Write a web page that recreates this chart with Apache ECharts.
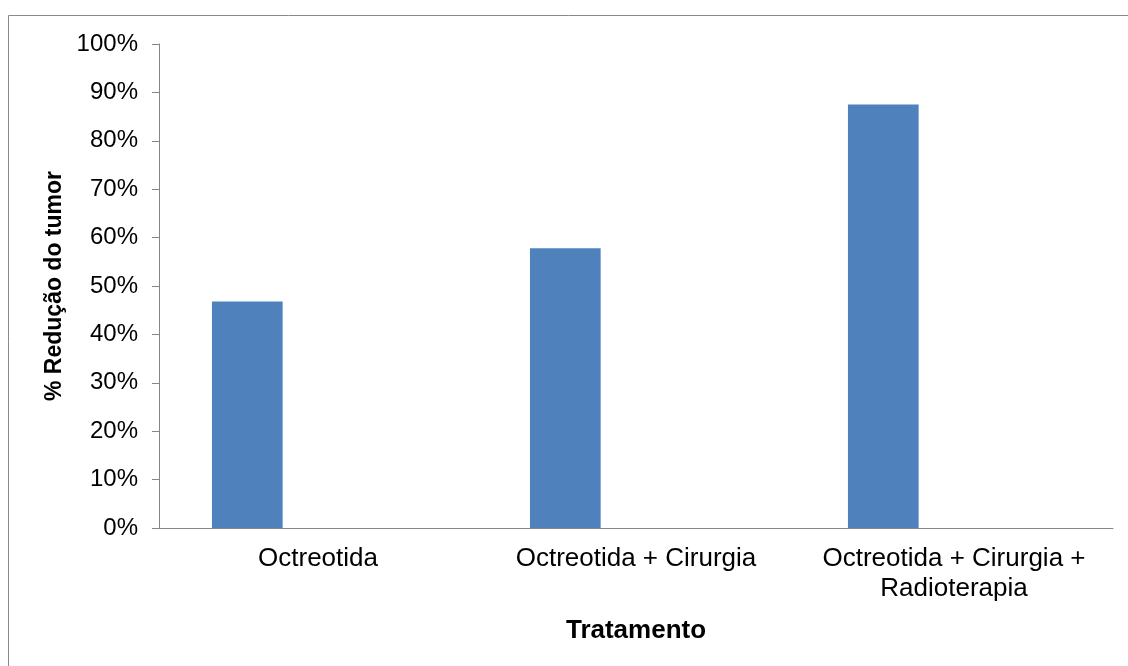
<!DOCTYPE html>
<html>
<head>
<meta charset="utf-8">
<title>% Redução do tumor por tratamento</title>
<script src="https://cdn.jsdelivr.net/npm/echarts@6/dist/echarts.min.js"></script>
<style>
  html, body { margin: 0; padding: 0; background: #ffffff; }
  #chart { width: 1128px; height: 666px; }
</style>
</head>
<body>
<div id="chart"></div>
<script>
// Tratamentos (categorias do eixo X)
const categories = ['Octreotida', 'Octreotida + Cirurgia', 'Octreotida + Cirurgia +\nRadioterapia'];
// % de redução do tumor por tratamento
const reducao = [46.8, 57.8, 87.5];
// Séries vazias que ocupam as posições restantes de cada grupo
const serieVazia2 = [null, null, null];
const serieVazia3 = [null, null, null];
// Marcas do eixo Y (%)
const yMin = 0, yMax = 100, yStep = 10;

const FONT = 'Liberation Sans, Arial, sans-serif';
const AXIS_GRAY = '#868686';

const chart = echarts.init(document.getElementById('chart'), null, { renderer: 'canvas' });

chart.setOption({
  backgroundColor: '#ffffff',
  animation: false,
  graphic: [{
    type: 'rect',
    shape: { x: 8.5, y: 15.5, width: 1300, height: 1000 },
    style: { fill: 'none', stroke: '#898989', lineWidth: 1 },
    silent: true
  }],
  grid: { left: 159, right: 15, top: 44, bottom: 138, containLabel: false },
  xAxis: {
    type: 'category',
    data: categories,
    name: 'Tratamento',
    nameLocation: 'middle',
    nameGap: 90,
    nameTextStyle: { fontFamily: FONT, fontSize: 26, fontWeight: 'bold', color: '#000' },
    axisLine: { show: true, lineStyle: { color: AXIS_GRAY, width: 1 } },
    axisTick: { show: false },
    axisLabel: {
      interval: 0,
      margin: 16,
      fontFamily: FONT,
      fontSize: 26,
      lineHeight: 30,
      color: '#000'
    },
    splitLine: { show: false }
  },
  yAxis: {
    type: 'value',
    min: yMin,
    max: yMax,
    interval: yStep,
    name: '% Redução do tumor',
    nameLocation: 'middle',
    nameGap: 91,
    nameRotate: 90,
    nameTextStyle: { fontFamily: FONT, fontSize: 23, fontWeight: 'bold', color: '#000' },
    axisLine: { show: true, lineStyle: { color: AXIS_GRAY, width: 1 } },
    axisTick: { show: true, inside: false, length: 7, lineStyle: { color: AXIS_GRAY } },
    axisLabel: {
      margin: 21,
      fontFamily: FONT,
      fontSize: 24,
      color: '#000',
      formatter: '{value}%'
    },
    splitLine: { show: false }
  },
  series: [
    {
      type: 'bar',
      data: reducao,
      barGap: '0%',
      barCategoryGap: '33.3%',
      itemStyle: { color: '#4F81BD' }
    },
    { type: 'bar', data: serieVazia2, itemStyle: { color: '#C0504D' } },
    { type: 'bar', data: serieVazia3, itemStyle: { color: '#9BBB59' } }
  ]
});
</script>
</body>
</html>
